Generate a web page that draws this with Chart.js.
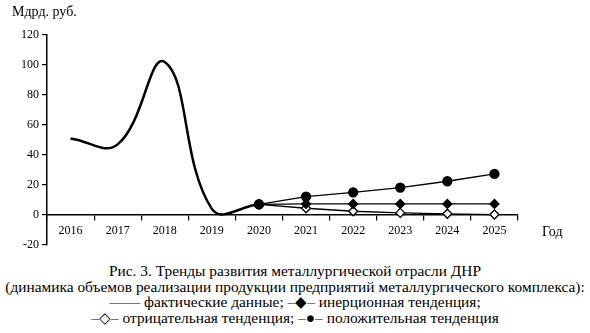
<!DOCTYPE html>
<html><head><meta charset="utf-8">
<script src="https://cdn.jsdelivr.net/npm/chart.js@4/dist/chart.umd.min.js"></script>
<style>
html,body{margin:0;padding:0;background:#fff;width:590px;height:333px;overflow:hidden;font-family:'Liberation Serif',serif;color:#000}
#wrap{position:absolute;left:0;top:0;width:590px;height:255px}
.lbl{position:absolute;font-family:'Liberation Serif',serif;font-size:14px;white-space:nowrap}
#cap{position:absolute;left:0;top:263px;width:590px;text-align:center;font-family:'Liberation Serif',serif;font-size:15.4px;line-height:15.5px;white-space:nowrap}
</style></head>
<body>
<div id="wrap"><canvas id="c" width="590" height="255"></canvas></div>
<div class="lbl" style="left:12px;top:4px">Мдрд. руб.</div>
<div class="lbl" style="left:542px;top:224px">Год</div>
<div id="cap">Рис. 3. Тренды развития металлургической отрасли ДНР<br>(динамика объемов реализации продукции предприятий металлургического комплекса):<br>—— фактические данные; –◆– инерционная тенденция;<br>–◇– отрицательная тенденция; –●– положительная тенденция</div>
<script>
const years = ["2016","2017","2018","2019","2020","2021","2022","2023","2024","2025"];
const actual = [51, 47, 102, 4, 7, null, null, null, null, null];
const inertial = [null, null, null, null, 7, 7.3, 7.3, 7.3, 7.3, 7.3];
const negative = [null, null, null, null, 7, 4.4, 2.4, 1.3, 0.7, 0.2];
const positive = [null, null, null, null, 7, 12.2, 15, 18.2, 22.4, 27.3];
const yTicks = [-20, 0, 20, 40, 60, 80, 100, 120];

Chart.defaults.font.family = "'Liberation Serif', serif";
Chart.defaults.color = '#000';

new Chart(document.getElementById('c'), {
  type: 'line',
  data: {
    labels: years,
    datasets: [
      {data: positive, borderColor:'#000', borderWidth:1.3, pointStyle:'circle', pointRadius:4.5, pointBackgroundColor:'#000', pointBorderColor:'#000', tension:0},
      {data: inertial, borderColor:'#000', borderWidth:1.3, pointStyle:'rectRot', pointRadius:4.5, pointBackgroundColor:'#000', pointBorderColor:'#000', tension:0},
      {data: negative, borderColor:'#000', borderWidth:1.3, pointStyle:'rectRot', pointRadius:4.5, pointBackgroundColor:'#fff', pointBorderColor:'#000', pointBorderWidth:1.3, tension:0},
      {data: actual, borderColor:'#000', borderWidth:2.5, tension:0.42, pointStyle:'circle',
        pointRadius: actual.map((v,i)=> i===4 ? 4 : 0), pointBackgroundColor:'#fff', pointBorderColor:'#000', pointBorderWidth:2}
    ]
  },
  options: {
    responsive:false, animation:false,
    layout:{padding:{left:0,right:72,top:35,bottom:10}},
    plugins:{legend:{display:false}, tooltip:{enabled:false}},
    scales:{
      x:{type:'category', position:{y:0}, offset:true,
        grid:{display:true, drawOnChartArea:false, offset:true, color:'#000', tickLength:5, lineWidth:1.2},
        border:{display:true, color:'#000', width:1.5},
        ticks:{color:'#000', font:{family:"'Liberation Serif', serif", size:12}, padding:4, maxRotation:0}
      },
      y:{min:-20, max:120,
        afterFit:(s)=>{s.width=47;},
        afterBuildTicks:(s)=>{s.ticks = yTicks.map(v=>({value:v}));},
        grid:{display:true, drawOnChartArea:false, color:'#000', tickLength:5, lineWidth:1.2},
        border:{display:true, color:'#000', width:1.5},
        ticks:{color:'#000', font:{family:"'Liberation Serif', serif", size:12}, padding:3}
      }
    }
  }
});
</script>
</body></html>
